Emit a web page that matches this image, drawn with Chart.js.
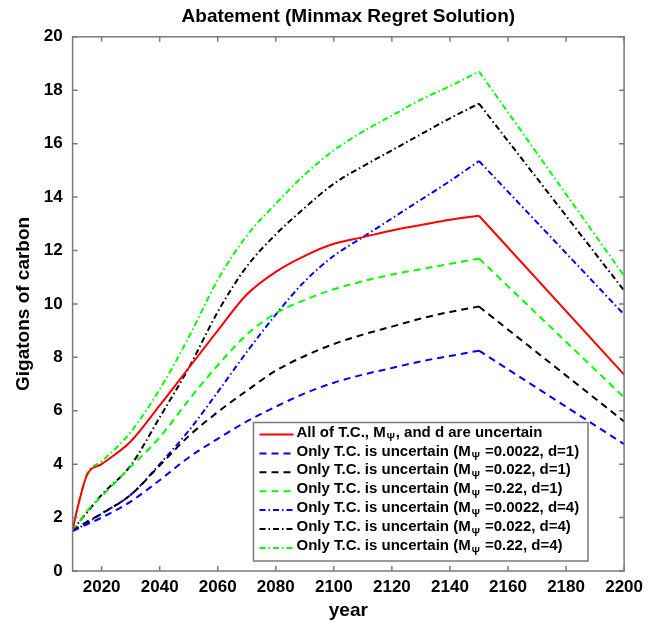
<!DOCTYPE html>
<html>
<head>
<meta charset="utf-8">
<script src="https://cdn.jsdelivr.net/npm/chart.js@4.4.0/dist/chart.umd.min.js"></script>
<style>
  html, body { margin: 0; padding: 0; background: #fff; }
  #wrap { width: 649px; height: 627px; }
</style>
</head>
<body>
<div id="wrap"><canvas id="grafico" width="649" height="627"></canvas></div>
<script>
// values
const years = [2010, 2012, 2015, 2020, 2030, 2040, 2050, 2060, 2070, 2080, 2090, 2100, 2110, 2120, 2130, 2140, 2150, 2200];

const allUncertain = [1.55, 2.5, 3.6, 4.0, 4.85, 6.2, 7.6, 9.0, 10.35, 11.2, 11.8, 12.25, 12.5, 12.75, 12.95, 13.15, 13.3, 7.35];
const tc0022d1 = [1.5, 1.6, 1.75, 2.0, 2.6, 3.4, 4.25, 4.95, 5.6, 6.15, 6.65, 7.05, 7.35, 7.6, 7.85, 8.05, 8.25, 4.75];
const tc022d1 = [1.5, 1.65, 1.85, 2.15, 2.85, 3.95, 5.05, 5.95, 6.75, 7.5, 8.05, 8.5, 8.85, 9.15, 9.45, 9.7, 9.9, 5.6];
const tc22d1 = [1.5, 1.8, 2.25, 2.8, 3.9, 5.0, 6.4, 7.7, 8.85, 9.65, 10.15, 10.55, 10.85, 11.1, 11.3, 11.5, 11.7, 6.5];
const tc0022d4 = [1.5, 1.6, 1.8, 2.15, 2.85, 4.0, 5.25, 6.7, 8.2, 9.6, 10.85, 11.8, 12.5, 13.2, 13.9, 14.6, 15.35, 9.6];
const tc022d4 = [1.5, 1.8, 2.2, 2.85, 3.95, 5.75, 7.6, 9.7, 11.4, 12.6, 13.6, 14.5, 15.15, 15.75, 16.35, 16.95, 17.5, 10.5];
const tc22d4 = [1.55, 2.5, 3.65, 4.1, 5.2, 6.8, 8.75, 10.9, 12.55, 13.75, 14.85, 15.75, 16.45, 17.05, 17.65, 18.15, 18.7, 11.05];

const xTicks = [2020, 2040, 2060, 2080, 2100, 2120, 2140, 2160, 2180, 2200];
const yTicks = [0, 2, 4, 6, 8, 10, 12, 14, 16, 18, 20];

const FONT = '"Liberation Sans", Arial, Helvetica, sans-serif';
const DASH = [7, 5];
const DASHDOT = [6, 3, 1.5, 3];
const PEAK = years.indexOf(2150);

// each curve is smooth up to 2150 and a straight drop afterwards,
// so it is drawn as two datasets: the smooth part and the straight tail
function serie(label, values, color, dash) {
  const pts = years.map((y, i) => ({ x: y, y: values[i] }));
  const base = {
    borderColor: color,
    backgroundColor: color,
    borderDash: dash,
    borderWidth: 2,
    pointRadius: 0,
    fill: false
  };
  return [
    Object.assign({ label: label, data: pts.slice(0, PEAK + 1), cubicInterpolationMode: 'monotone' }, base),
    Object.assign({ label: label, tail: true, data: pts.slice(PEAK), tension: 0 }, base)
  ];
}

// box with inward ticks on all four sides (matlab style)
const framePlugin = {
  id: 'frame',
  afterDatasetsDraw(chart) {
    const { ctx, chartArea: a, scales } = chart;
    ctx.save();
    ctx.strokeStyle = '#7a7a7a';
    ctx.lineWidth = 1.5;
    ctx.setLineDash([]);
    ctx.strokeRect(a.left, a.top, a.right - a.left, a.bottom - a.top);
    ctx.beginPath();
    xTicks.forEach(v => {
      const px = scales.x.getPixelForValue(v);
      ctx.moveTo(px, a.bottom); ctx.lineTo(px, a.bottom - 5);
      ctx.moveTo(px, a.top); ctx.lineTo(px, a.top + 5);
    });
    yTicks.forEach(v => {
      const py = scales.y.getPixelForValue(v);
      ctx.moveTo(a.left, py); ctx.lineTo(a.left + 5, py);
      ctx.moveTo(a.right, py); ctx.lineTo(a.right - 5, py);
    });
    ctx.stroke();
    ctx.restore();
  }
};

// legend drawn by hand so M gets its subscript psi
const legendPlugin = {
  id: 'legendBox',
  afterDraw(chart) {
    const ctx = chart.ctx;
    const bx = 253.5, by = 422.5, bw = 334.5, bh = 138.5;
    ctx.save();
    ctx.fillStyle = '#fff';
    ctx.fillRect(bx, by, bw, bh);
    ctx.strokeStyle = '#7a7a7a';
    ctx.lineWidth = 1.5;
    ctx.setLineDash([]);
    ctx.strokeRect(bx, by, bw, bh);

    chart.data.datasets.filter(ds => !ds.tail).forEach((ds, i) => {
      const y = by + 10 + i * 18.9;
      ctx.strokeStyle = ds.borderColor;
      ctx.lineWidth = 2;
      ctx.setLineDash(ds.borderDash || []);
      ctx.beginPath();
      ctx.moveTo(bx + 6, y + 2);
      ctx.lineTo(bx + 40, y + 2);
      ctx.stroke();
      ctx.setLineDash([]);

      const parts = ds.label.split('Ψ');
      let tx = bx + 43;
      ctx.fillStyle = '#000';
      ctx.textBaseline = 'middle';
      ctx.font = 'bold 15px ' + FONT;
      ctx.fillText(parts[0], tx, y);
      tx += ctx.measureText(parts[0]).width + 1;
      ctx.font = 'bold 10px ' + FONT;
      ctx.fillText('Ψ', tx, y + 6);
      tx += ctx.measureText('Ψ').width + 1;
      ctx.font = 'bold 15px ' + FONT;
      ctx.fillText(parts[1], tx, y);
    });
    ctx.restore();
  }
};

const ctx = document.getElementById('grafico').getContext('2d');

new Chart(ctx, {
  type: 'line',
  data: {
    datasets: [
      ...serie('All of T.C., MΨ, and d are uncertain', allUncertain, '#ff0000', []),
      ...serie('Only T.C. is uncertain (MΨ =0.0022, d=1)', tc0022d1, '#0000ff', DASH),
      ...serie('Only T.C. is uncertain (MΨ =0.022, d=1)', tc022d1, '#000000', DASH),
      ...serie('Only T.C. is uncertain (MΨ =0.22, d=1)', tc22d1, '#00ff00', DASH),
      ...serie('Only T.C. is uncertain (MΨ =0.0022, d=4)', tc0022d4, '#0000ff', DASHDOT),
      ...serie('Only T.C. is uncertain (MΨ =0.022, d=4)', tc022d4, '#000000', DASHDOT),
      ...serie('Only T.C. is uncertain (MΨ =0.22, d=4)', tc22d4, '#00ff00', DASHDOT)
    ]
  },
  options: {
    responsive: false,
    animation: false,
    layout: { padding: { left: 0, right: 18, top: 0, bottom: 0 } },
    plugins: {
      legend: { display: false },
      tooltip: { enabled: false },
      title: {
        display: true,
        fullSize: false,
        text: 'Abatement (Minmax Regret Solution)',
        color: '#000',
        font: { family: FONT, size: 19, weight: 'bold' },
        padding: { top: 5, bottom: 9 }
      }
    },
    scales: {
      x: {
        type: 'linear',
        min: 2010,
        max: 2200,
        afterBuildTicks: scale => { scale.ticks = xTicks.map(v => ({ value: v })); },
        afterFit: scale => { scale.height = 56; },
        ticks: {
          color: '#000',
          font: { family: FONT, size: 17, weight: 'bold' },
          padding: 6,
          maxRotation: 0,
          autoSkip: false,
          callback: v => String(v)
        },
        grid: { display: false, drawTicks: false },
        border: { display: false },
        title: {
          display: true,
          text: 'year',
          color: '#000',
          font: { family: FONT, size: 19, weight: 'bold' },
          padding: { top: 0, bottom: 5 }
        }
      },
      y: {
        min: 0,
        max: 20,
        afterBuildTicks: scale => { scale.ticks = yTicks.map(v => ({ value: v })); },
        afterFit: scale => { scale.width = 72.6; },
        ticks: {
          color: '#000',
          font: { family: FONT, size: 17, weight: 'bold' },
          padding: 10,
          callback: v => String(v)
        },
        grid: { display: false, drawTicks: false },
        border: { display: false },
        title: {
          display: true,
          text: 'Gigatons of carbon',
          color: '#000',
          font: { family: FONT, size: 19, weight: 'bold' },
          padding: { top: 12, bottom: 0 }
        }
      }
    }
  },
  plugins: [framePlugin, legendPlugin]
});
</script>
</body>
</html>
